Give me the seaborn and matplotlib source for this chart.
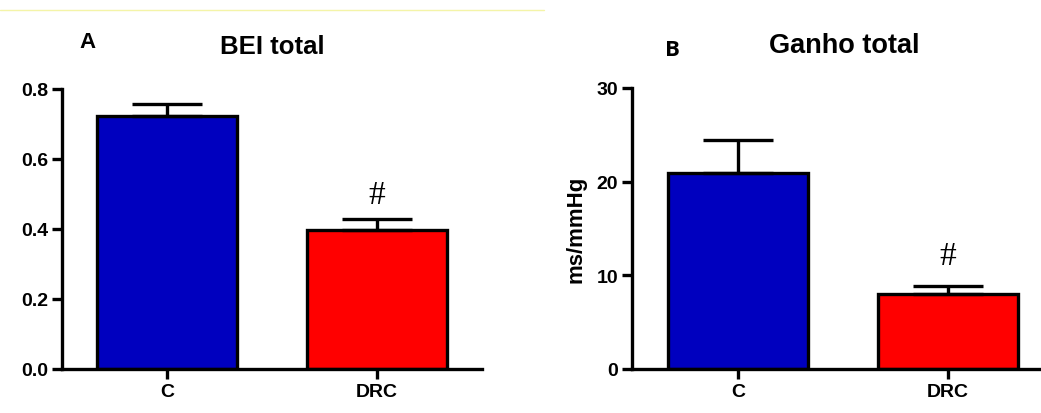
"""
BEI total e Ganho total: C vs DRC (média + EPM)
"""
import matplotlib
matplotlib.use("Agg")
import matplotlib.pyplot as plt
import pandas as pd
import seaborn as sns
from matplotlib.lines import Line2D

groups = ["C", "DRC"]
colors = ["#0000BF", "#FF0000"]

bei_mean = [0.723, 0.398]
bei_sem = [0.033, 0.030]

ganho_mean = [20.9, 8.0]
ganho_sem = [3.5, 0.85]

sns.set_style("ticks", {"axes.edgecolor": "black", "xtick.color": "black",
                        "ytick.color": "black", "text.color": "black",
                        "axes.labelcolor": "black"})
plt.rcParams["font.family"] = ["Liberation Sans", "DejaVu Sans"]

W, H = 1041, 414
fig = plt.figure(figsize=(W / 100, H / 100), dpi=100)


def px_axes(x0, x1, y_top, y_bot):
    return fig.add_axes([x0 / W, 1 - y_bot / H, (x1 - x0) / W, (y_bot - y_top) / H])


def draw_panel(ax, means, sems, ylim, yticks, fmt, xlim):
    df = pd.DataFrame({"grupo": groups, "valor": means})
    sns.barplot(data=df, x="grupo", y="valor", hue="grupo", palette=colors,
                saturation=1, width=0.667, edgecolor="black", linewidth=2.4,
                legend=False, ax=ax)
    ax.errorbar(range(len(groups)), means, yerr=[[0] * len(sems), sems],
                fmt="none", ecolor="black", elinewidth=2.4, capsize=25,
                capthick=2.4, zorder=1)
    ax.set_ylim(*ylim)
    ax.set_xlim(*xlim)
    ax.set_yticks(yticks)
    ax.set_yticklabels([fmt.format(t) for t in yticks])
    ax.set_xlabel("")
    ax.set_ylabel("")
    sns.despine(ax=ax)
    for s in ("left", "bottom"):
        ax.spines[s].set_linewidth(2.4)
        ax.spines[s].set_color("black")
    ax.tick_params(axis="both", width=2.4, length=7, labelsize=14, pad=3,
                   color="black", labelcolor="black")
    for lab in ax.get_xticklabels() + ax.get_yticklabels():
        lab.set_fontweight("bold")


# painel A
axA = px_axes(62, 482, 90, 370)
draw_panel(axA, bei_mean, bei_sem, (0, 0.8), [0.0, 0.2, 0.4, 0.6, 0.8], "{:.1f}", (-0.5, 1.5))
fig.text(272 / W, 1 - 47 / H, "BEI total", fontsize=18.5, fontweight="bold", ha="center", va="center")
fig.text(88 / W, 1 - 42 / H, "A", fontsize=16, fontweight="bold", ha="center", va="center")
axA.text(1, bei_mean[1] + bei_sem[1] + 0.07, "#", fontsize=24,
         family=["Liberation Serif", "DejaVu Serif"], ha="center", va="center")

# painel B
axB = px_axes(632, 1041, 89, 370)
draw_panel(axB, ganho_mean, ganho_sem, (0, 30), [0, 10, 20, 30], "{:.0f}", (-0.505, 1.443))
axB.set_ylabel("ms/mmHg", fontsize=16, fontweight="bold", labelpad=7)
fig.text(844 / W, 1 - 46 / H, "Ganho total", fontsize=19.5, fontweight="bold", ha="center", va="center")
fig.text(672 / W, 1 - 51 / H, "B", fontsize=16, fontweight="bold", ha="center", va="center",
         family=["Open Sans", "DejaVu Sans"])
axB.text(1, ganho_mean[1] + ganho_sem[1] + 3.2, "#", fontsize=24,
         family=["Liberation Serif", "DejaVu Serif"], ha="center", va="center")

# linha fina no topo
fig.add_artist(Line2D([0, 544 / W], [1 - 11 / H, 1 - 11 / H], color="#f4f4a8", linewidth=1))

fig.savefig("out.png", dpi=100)
